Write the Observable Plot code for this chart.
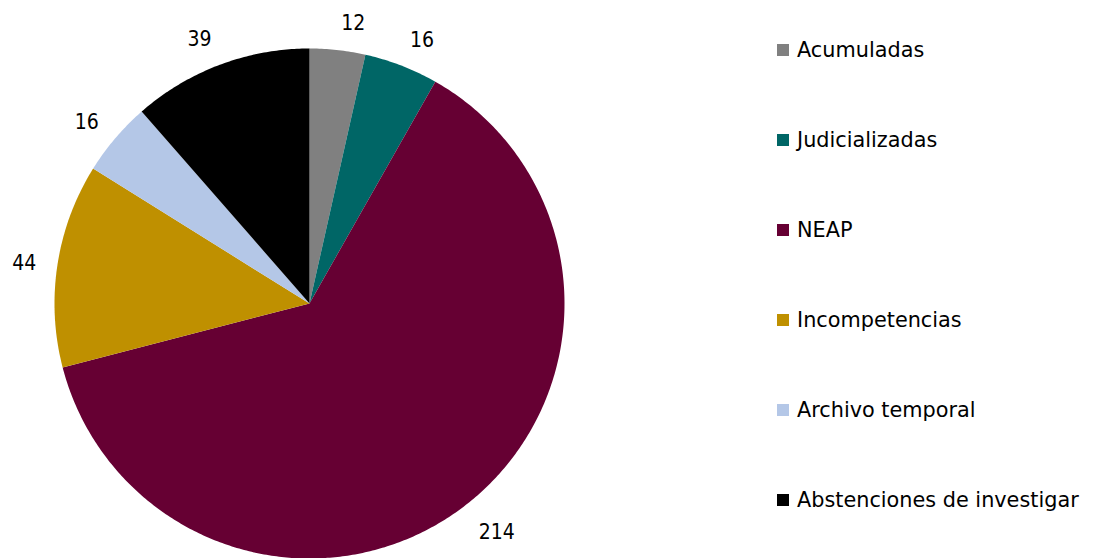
<!DOCTYPE html>
<html>
<head>
<meta charset="utf-8">
<script src="https://cdn.jsdelivr.net/npm/d3@7"></script>
<script src="https://cdn.jsdelivr.net/npm/@observablehq/plot@0.6"></script>
<style>
  html, body { margin: 0; padding: 0; background: #fff; }
  #wrap { position: relative; width: 1094px; height: 558px; overflow: hidden; font-family: "DejaVu Sans", sans-serif; }
  #chart { position: absolute; left: 0; top: 0; }
  #legend { position: absolute; left: 777px; top: 5px; }
  .item { display: flex; align-items: center; height: 90px; font-size: 20.8px; color: #000; white-space: nowrap; }
  .sw { width: 12px; height: 12px; margin-right: 8px; flex: none; }
</style>
</head>
<body>
<div id="wrap"><div id="chart"></div><div id="legend"></div></div>
<script>
const categories = ["Acumuladas", "Judicializadas", "NEAP", "Incompetencias", "Archivo temporal", "Abstenciones de investigar"];
const values = [12, 16, 214, 44, 16, 39];
const colors = ["#808080", "#006666", "#660033", "#BF9000", "#B4C7E7", "#000000"];

const data = categories.map((c, i) => ({category: c, value: values[i]}));
const arcs = d3.pie().sort(null).value(d => d.value)(data);

// layout constants
const R = 255;          // pie radius in px
const fontSize = 21;
const digitW = 11.5;    // approx label digit width in px

// slice polygons in unit-circle coordinates (y up)
const slices = arcs.map(a => {
  const n = Math.max(4, Math.ceil((a.endAngle - a.startAngle) / 0.01));
  const ring = [[0, 0]];
  for (let k = 0; k <= n; k++) {
    const t = a.startAngle + (a.endAngle - a.startAngle) * k / n;
    ring.push([Math.sin(t), Math.cos(t)]);
  }
  ring.push([0, 0]);
  return {type: "Feature", properties: {category: a.data.category}, geometry: {type: "Polygon", coordinates: [ring]}};
});

// label positions: outside the edge, pushed sideways by part of the label width
const labels = arcs.map(a => {
  const t = (a.startAngle + a.endAngle) / 2;
  const s = Math.sin(t), c = Math.cos(t);
  const w = String(a.data.value).length * digitW;
  const px = s * (R + 20) + Math.sign(s) * 0.58 * w;
  const py = c * (R + 30);
  return {x: px / R, y: py / R, text: String(a.data.value)};
});

const plot = Plot.plot({
  width: 640,
  height: 558,
  marginLeft: 54,
  marginRight: 76,
  marginTop: 48,
  marginBottom: 0,
  style: {fontFamily: "DejaVu Sans, sans-serif", background: "transparent", overflow: "visible"},
  projection: {type: "reflect-y", domain: {type: "MultiPoint", coordinates: [[-1, -1], [1, 1]]}, clip: false},
  color: {domain: categories, range: colors},
  marks: [
    Plot.geo(slices, {fill: d => d.properties.category, stroke: "none"}),
    Plot.text(labels, {x: "x", y: "y", text: "text", dy: 3, fontSize: fontSize, fontFamily: "DejaVu Sans Condensed, DejaVu Sans, sans-serif", fill: "#000", textAnchor: "middle", lineAnchor: "middle"})
  ]
});
document.getElementById("chart").appendChild(plot);

const legend = d3.select("#legend");
categories.forEach((c, i) => {
  const it = legend.append("div").attr("class", "item");
  it.append("div").attr("class", "sw").style("background", colors[i]);
  it.append("span").text(c);
});
</script>
</body>
</html>
